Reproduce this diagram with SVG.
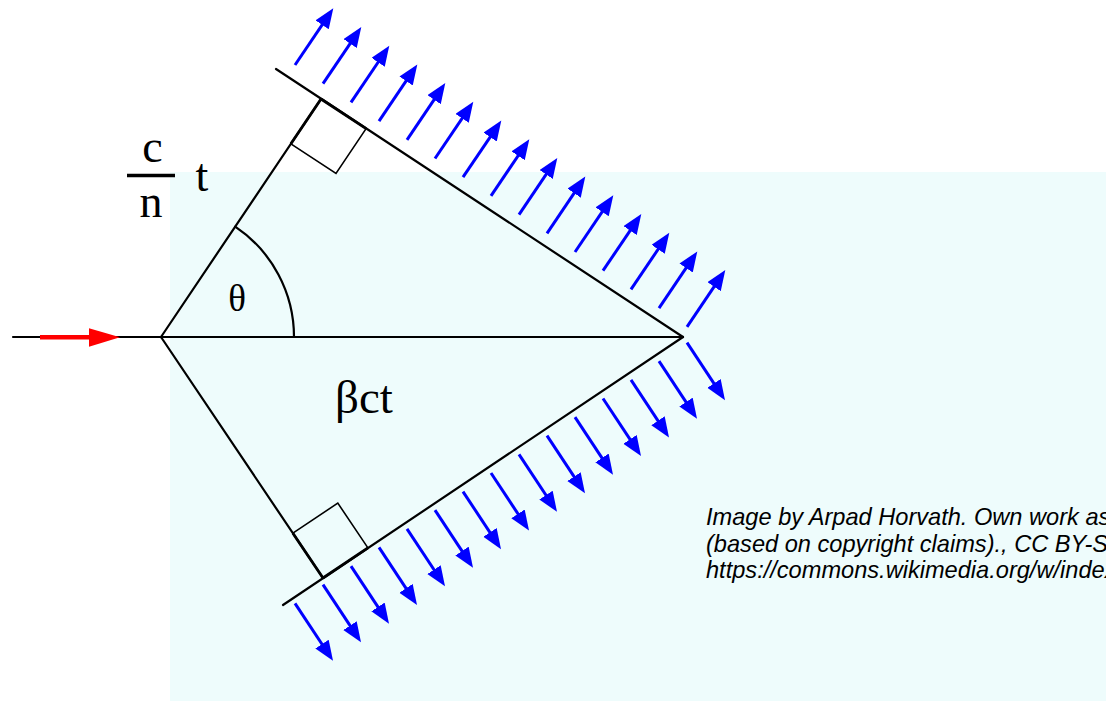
<svg xmlns="http://www.w3.org/2000/svg" xmlns:xlink="http://www.w3.org/1999/xlink" width="1106" height="701" viewBox="0 0 1106 701">
<style>
.ln{stroke:#000;stroke-width:2.2;fill:none;stroke-linecap:round}
.thin{stroke:#000;stroke-width:1.6;fill:none}
.thick{stroke:#000;stroke-width:2.8;fill:none}
.ba{stroke:#0000ff;stroke-width:3;fill:none}
.serif{font-family:"Liberation Serif","Times New Roman",serif;fill:#000}
.attr{font-family:"Liberation Sans",Arial,sans-serif;font-style:italic;font-size:23.6px;fill:#000}
</style>
<defs>
<marker id="bh" markerUnits="userSpaceOnUse" markerWidth="22" markerHeight="18" refX="10" refY="8" orient="auto">
<path d="M0,0 L20,8 L0,16 z" fill="#0000ff"/>
</marker>
<g id="ua"><line class="ba" x1="0" y1="0" x2="32.7" y2="-48.4" marker-end="url(#bh)"/></g>
<g id="da"><line class="ba" x1="0" y1="0" x2="32.5" y2="49.2" marker-end="url(#bh)"/></g>
</defs>
<rect x="0" y="0" width="1106" height="701" fill="#ffffff"/>
<rect id="medium" x="170" y="172" width="936" height="529" fill="#eefcfc"/>

<g id="upper-waves">
<use xlink:href="#ua" href="#ua" x="295" y="65"/>
<use xlink:href="#ua" href="#ua" x="323" y="83.7"/>
<use xlink:href="#ua" href="#ua" x="351" y="102.4"/>
<use xlink:href="#ua" href="#ua" x="379" y="121.1"/>
<use xlink:href="#ua" href="#ua" x="407" y="139.8"/>
<use xlink:href="#ua" href="#ua" x="435" y="158.5"/>
<use xlink:href="#ua" href="#ua" x="463" y="177.2"/>
<use xlink:href="#ua" href="#ua" x="491" y="195.9"/>
<use xlink:href="#ua" href="#ua" x="519" y="214.6"/>
<use xlink:href="#ua" href="#ua" x="547" y="233.3"/>
<use xlink:href="#ua" href="#ua" x="575" y="252"/>
<use xlink:href="#ua" href="#ua" x="603" y="270.7"/>
<use xlink:href="#ua" href="#ua" x="631" y="289.4"/>
<use xlink:href="#ua" href="#ua" x="659" y="308.1"/>
<use xlink:href="#ua" href="#ua" x="687" y="326.8"/>
</g>
<g id="lower-waves">
<use xlink:href="#da" href="#da" x="295" y="603.3"/>
<use xlink:href="#da" href="#da" x="323" y="584.7"/>
<use xlink:href="#da" href="#da" x="351" y="566.1"/>
<use xlink:href="#da" href="#da" x="379" y="547.4"/>
<use xlink:href="#da" href="#da" x="407" y="528.8"/>
<use xlink:href="#da" href="#da" x="435" y="510.2"/>
<use xlink:href="#da" href="#da" x="463" y="491.6"/>
<use xlink:href="#da" href="#da" x="491" y="473"/>
<use xlink:href="#da" href="#da" x="519" y="454.3"/>
<use xlink:href="#da" href="#da" x="547" y="435.7"/>
<use xlink:href="#da" href="#da" x="575" y="417.1"/>
<use xlink:href="#da" href="#da" x="603" y="398.5"/>
<use xlink:href="#da" href="#da" x="631" y="379.9"/>
<use xlink:href="#da" href="#da" x="659" y="361.2"/>
<use xlink:href="#da" href="#da" x="687" y="342.6"/>
</g>

<g id="geometry">
<line class="ln" x1="13" y1="337" x2="683" y2="337"/>
<line class="ln" x1="161" y1="337" x2="321" y2="99"/>
<line class="ln" x1="161" y1="337" x2="323" y2="578"/>
<line class="ln" x1="276" y1="69" x2="683" y2="337"/>
<line class="ln" x1="283" y1="605" x2="683" y2="337"/>
<polyline class="thin" points="290.9,143.8 336,173.4 366.1,128.6"/>
<polyline class="thin" points="292.9,533.2 337.8,503.1 367.9,547.9"/>
<line class="thick" x1="321" y1="99" x2="290.9" y2="143.8"/>
<line class="thick" x1="321" y1="99" x2="366.1" y2="128.6"/>
<line class="thick" x1="323" y1="578" x2="292.9" y2="533.2"/>
<line class="thick" x1="323" y1="578" x2="367.9" y2="547.9"/>
<path class="ln" d="M235.2,226.6 A133,133 0 0 1 294,337"/>
</g>

<g id="incident">
<line x1="40" y1="337.3" x2="92" y2="337.3" stroke="#ff0000" stroke-width="4.5"/>
<polygon points="89,328.3 120,337.3 89,346.8" fill="#ff0000"/>
</g>

<g id="labels">
<text class="serif" x="152.5" y="162" font-size="46" text-anchor="middle">c</text>
<line x1="127" y1="175.5" x2="175" y2="175.5" stroke="#000" stroke-width="3.5"/>
<text class="serif" x="151" y="216.5" font-size="46" text-anchor="middle">n</text>
<text class="serif" x="202" y="190.5" font-size="46" text-anchor="middle">t</text>
<text class="serif" x="237" y="310.5" font-size="37" text-anchor="middle">θ</text>
<text class="serif" x="364" y="413" font-size="47" text-anchor="middle">βct</text>
</g>

<g id="attribution">
<text class="attr" x="706" y="525">Image by Arpad Horvath. Own work as</text>
<text class="attr" x="706" y="551.5">(based on copyright claims)., CC BY-S</text>
<text class="attr" x="706" y="578">https://commons.wikimedia.org/w/index</text>
</g>
</svg>
